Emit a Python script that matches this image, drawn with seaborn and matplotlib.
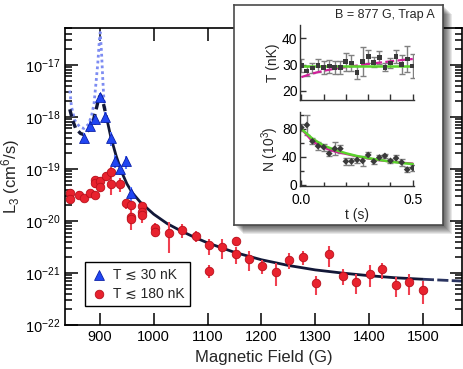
import numpy as np
import pandas as pd
import matplotlib
matplotlib.use("Agg")
import matplotlib.pyplot as plt
from matplotlib.patches import Rectangle
from matplotlib.ticker import (NullLocator, FixedLocator, NullFormatter, LogLocator,
                               LogFormatterSciNotation)
import seaborn as sns

# ── Style ───────────────────────────────────────────────────────────────────
sns.set_theme(style="ticks")
plt.rcParams["font.family"] = ["Liberation Sans", "DejaVu Sans"]
plt.rcParams["mathtext.fontset"] = "custom"
plt.rcParams["mathtext.rm"] = "Liberation Sans"
plt.rcParams["mathtext.it"] = "Liberation Sans:italic"

NAVY = "#121838"
BLUE = "#2146f2"
RED = "#e8222e"

# ── Main panel data ─────────────────────────────────────────────────────────
field_cold = [870, 881, 891, 901, 910, 920, 928, 938, 948, 958]
l3_cold = [4.0e-19, 6.8e-19, 9.0e-19, 2.4e-18, 1.0e-18, 4.0e-19, 1.45e-19, 1.0e-19, 1.4e-19, 3.4e-20]
err_cold = [1.0e-19, 1.5e-19, 2.0e-19, 5e-19, 2.5e-19, 1.2e-19, 4e-20, 2.5e-20, 4e-20, 1.2e-20]

field_warm = [844, 844, 861, 871, 881, 890, 890, 890, 900, 900, 911, 920, 920, 938,
              948, 958, 958, 958, 979, 979, 979, 1003, 1003, 1028, 1053, 1078, 1103,
              1103, 1127, 1152, 1152, 1177, 1202, 1227, 1252, 1277, 1301, 1326, 1351,
              1376, 1401, 1425, 1450, 1475, 1500]
l3_warm = [3.4e-20, 2.6e-20, 3.2e-20, 2.8e-20, 3.5e-20, 3.2e-20, 6.2e-20, 5.4e-20,
           5.9e-20, 4.6e-20, 7.4e-20, 8.9e-20, 5.1e-20, 5.1e-20, 2.2e-20, 2.0e-20,
           1.2e-20, 1.07e-20, 1.9e-20, 1.5e-20, 1.3e-20, 7.5e-21, 6.2e-21, 5.9e-21,
           6.7e-21, 5.2e-21, 3.4e-21, 1.1e-21, 3.2e-21, 4.1e-21, 2.3e-21, 1.9e-21,
           1.38e-21, 1.07e-21, 1.78e-21, 2.0e-21, 6.3e-22, 2.3e-21, 8.8e-22, 6.8e-22,
           9.8e-22, 1.18e-21, 6.0e-22, 6.8e-22, 4.7e-22]
err_warm = [0.6e-20, 0.5e-20, 0.5e-20, 0.4e-20, 0.5e-20, 0.6e-20, 1.0e-20, 1.0e-20,
            1.2e-20, 1.0e-20, 1.5e-20, 2.0e-20, 2.0e-20, 1.5e-20, 0.5e-20, 0.6e-20,
            0.3e-20, 0.4e-20, 0.4e-20, 0.4e-20, 0.4e-20, 1.5e-21, 1.2e-21, 3.5e-21,
            2.0e-21, 1.2e-21, 1.2e-21, 0.3e-21, 1.3e-21, 0.8e-21, 0.8e-21, 0.8e-21,
            0.4e-21, 0.5e-21, 0.6e-21, 0.6e-21, 2.5e-22, 1.0e-21, 3.0e-22, 2.8e-22,
            4.5e-22, 4.0e-22, 2.5e-22, 3.0e-22, 2.2e-22]

# theory curves
field_dash = [844, 849, 855, 864, 872, 881, 888, 894, 898, 901, 904, 907, 912]
l3_dash = [1.4e-18, 8.7e-19, 6.0e-19, 4.8e-19, 4.5e-19, 6.0e-19, 8.7e-19, 1.55e-18,
           2.3e-18, 2.6e-18, 2.2e-18, 1.7e-18, 1.0e-18]
field_solid = [912, 920, 930, 940, 950, 960, 975, 1000, 1025, 1050, 1075, 1100,
               1150, 1200, 1250, 1300, 1350, 1400, 1450, 1500]
l3_solid = [1.0e-18, 4.2e-19, 1.8e-19, 8.9e-20, 5.2e-20, 3.5e-20, 2.3e-20, 1.35e-20,
            8.9e-21, 6.5e-21, 4.9e-21, 3.8e-21, 2.5e-21, 1.8e-21, 1.4e-21, 1.15e-21,
            1.0e-21, 8.9e-22, 8.1e-22, 7.6e-22]
field_tail = [1500, 1573]
l3_tail = [7.6e-22, 7.0e-22]
field_dot = [844, 847, 853, 862, 870, 878, 884, 889, 892, 896, 899, 900.5, 903, 905,
             907, 910, 913]
l3_dot = [3.2e-18, 1.6e-18, 8.7e-19, 6.5e-19, 6.0e-19, 7.1e-19, 1.0e-18, 1.8e-18,
          3.8e-18, 1.07e-17, 3.0e-17, 4.2e-17, 1.7e-17, 6.0e-18, 2.5e-18, 1.2e-18, 8e-19]

y_decades = [1e-22, 1e-21, 1e-20, 1e-19, 1e-18, 1e-17]

# ── Inset data (B = 877 G) ──────────────────────────────────────────────────
t_s = [0.0, 0.025, 0.05, 0.075, 0.1, 0.125, 0.15, 0.175, 0.2, 0.225, 0.25, 0.275,
       0.3, 0.325, 0.35, 0.375, 0.4, 0.425, 0.45, 0.475, 0.5]
temp_nk = [29.6, 27.5, 28.7, 29.6, 29.0, 29.4, 29.0, 29.0, 31.0, 30.6, 26.9, 31.2,
           32.9, 30.9, 32.8, 29.0, 30.6, 32.9, 30.0, 32.1, 29.4]
temp_err = [2.5, 2.0, 2.0, 2.5, 2.5, 2.5, 2.5, 2.5, 3.5, 3.0, 2.5, 5.5, 2.5, 2.0,
            2.5, 1.5, 2.0, 2.5, 3.5, 5.0, 4.5]
atoms_k = [81.9, 85.6, 62.2, 55.2, 53.8, 44.5, 51.5, 51.5, 33.3, 33.3, 35.5, 34.1,
           42.5, 33.3, 38.8, 41.2, 34.1, 37.9, 31.9, 21.5, 23.9]
atoms_err = [5, 15, 4, 6, 5, 4, 9, 6, 5, 5, 5, 7, 5, 4, 4, 3, 3, 4, 5, 4, 4]

t_fit = [0.0, 0.05, 0.1, 0.15, 0.2, 0.25, 0.3, 0.35, 0.4, 0.45, 0.5]
temp_flat = [29.6] * 11
temp_rise = [25.2, 26.6, 27.6, 28.4, 29.0, 29.6, 30.2, 30.7, 31.2, 31.7, 32.1]
atoms_green = [80, 66, 56, 50, 45, 41, 38, 35.5, 33, 31, 29.5]
atoms_magenta = [80, 62, 53, 47.5, 44, 40.5, 37.5, 35, 33, 31.5, 30.2]

# ── Figure ──────────────────────────────────────────────────────────────────
fig = plt.figure(figsize=(4.64, 3.69), dpi=100)
ax = fig.add_axes([0.140, 0.119, 0.856, 0.805])

curves = [
    (field_dot, l3_dot, "#7d8cf2", (0, (1, 1.1)), 2.0),
    (field_dash, l3_dash, NAVY, (0, (2.2, 1.4)), 2.4),
    (field_solid, l3_solid, NAVY, "-", 2.0),
    (field_tail, l3_tail, "#2a3460", (0, (4, 1.2)), 2.0),
]
for xs, ys, col, ls, lw in curves:
    sns.lineplot(x=xs, y=ys, ax=ax, color=col, linestyle=ls, linewidth=lw,
                 estimator=None, sort=False, zorder=2)

ax.errorbar(field_warm, l3_warm, yerr=err_warm, fmt="none", ecolor="#f04050",
            elinewidth=1.5, capsize=0, zorder=3)
ax.errorbar(field_cold, l3_cold, yerr=err_cold, fmt="none", ecolor="#5a78ff",
            elinewidth=1.5, capsize=0, zorder=3)
sns.scatterplot(x=field_warm, y=l3_warm, ax=ax, marker="o", s=38, color=RED,
                edgecolor="#b8101c", linewidth=0.6, zorder=4, label="T \u2272 180 nK")
sns.scatterplot(x=field_cold, y=l3_cold, ax=ax, marker="^", s=50, color=BLUE,
                edgecolor="#0a1fa8", linewidth=0.6, zorder=5, label="T \u2272 30 nK")

ax.set_yscale("log")
ax.set_xlim(835, 1573)
ax.set_ylim(1e-22, 5.1e-17)
ax.set_xticks([900, 1000, 1100, 1200, 1300, 1400, 1500])
ax.xaxis.set_minor_locator(NullLocator())
ax.yaxis.set_major_locator(FixedLocator(y_decades))
ax.yaxis.set_major_formatter(LogFormatterSciNotation())
ax.yaxis.set_minor_locator(LogLocator(base=10, subs=np.arange(2, 10), numticks=20))
ax.yaxis.set_minor_formatter(NullFormatter())
ax.tick_params(which="both", direction="in", top=True, right=True, colors="black",
               labelsize=10.5, width=1.1)
ax.tick_params(which="major", length=9)
ax.tick_params(which="minor", length=5)
for sp in ax.spines.values():
    sp.set_color("black")
    sp.set_linewidth(1.2)
ax.set_xlabel("Magnetic Field (G)", fontsize=12)
ax.set_ylabel("L$_3$ (cm$^6$/s)", fontsize=12, labelpad=2)

h, l = ax.get_legend_handles_labels()
leg = ax.legend(h[::-1], l[::-1], loc="upper left", bbox_to_anchor=(0.05, 0.212),
                fancybox=False, edgecolor="black", framealpha=1, borderaxespad=0,
                fontsize=10, handletextpad=0.4, handlelength=1.2, borderpad=0.4,
                labelspacing=0.35)
leg.get_frame().set_linewidth(1.0)

# ── Inset box with drop shadow ──────────────────────────────────────────────
bx, by, bw, bh = 0.504, 0.390, 0.451, 0.596
px_w, px_h = 1 / 464, 1 / 369
for d in range(1, 10):
    fig.add_artist(Rectangle((bx + d * px_w, by - d * px_h), bw, bh,
                             transform=fig.transFigure, facecolor="black",
                             edgecolor="none", alpha=0.09, zorder=4))
box = fig.add_axes([bx, by, bw, bh], zorder=5)
box.set_facecolor("white")
box.set_xticks([])
box.set_yticks([])
for sp in box.spines.values():
    sp.set_color("#4a4a4a")
    sp.set_linewidth(1.2)
fig.text(0.937, 0.959, "B = 877 G, Trap A", ha="right", va="center", fontsize=9,
         zorder=7)

GRAY = "#333333"
ax_t = fig.add_axes([0.647, 0.729, 0.245, 0.203], zorder=6)
ax_n = fig.add_axes([0.647, 0.496, 0.245, 0.200], zorder=6)
for a in (ax_t, ax_n):
    a.set_facecolor("none")
    a.spines[["top", "right"]].set_visible(False)
    for sp in ("left", "bottom"):
        a.spines[sp].set_color(GRAY)
        a.spines[sp].set_linewidth(1.0)
    a.set_xlim(-0.005, 0.505)
    a.tick_params(which="both", direction="in", colors=GRAY, labelcolor="black",
                  labelsize=10, width=1.0, pad=2)
    a.tick_params(which="major", length=4)
    a.tick_params(which="minor", length=3)
ax_n.tick_params(axis="x", pad=5)

ax_t.errorbar(t_s, temp_nk, yerr=temp_err, fmt="none", ecolor="#808080",
              elinewidth=1.0, capsize=2, capthick=1.0, zorder=2)
sns.lineplot(x=t_fit, y=temp_rise, ax=ax_t, color="#d0209a", linestyle=(0, (4, 1.5)),
             linewidth=1.6, zorder=3)
sns.lineplot(x=t_fit, y=temp_flat, ax=ax_t, color="#5ad42c", linewidth=1.8, zorder=3)
sns.scatterplot(x=t_s, y=temp_nk, ax=ax_t, marker="s", s=12, color="#3a3a3a",
                edgecolor="none", zorder=4)
ax_t.set_ylim(16.5, 45)
ax_t.set_yticks([20, 30, 40])
ax_t.xaxis.set_major_locator(FixedLocator([0, 0.1, 0.2, 0.3, 0.4, 0.5]))
ax_t.xaxis.set_major_formatter(NullFormatter())
ax_t.set_ylabel("T (nK)", fontsize=10, labelpad=1)

ax_n.errorbar(t_s, atoms_k, yerr=atoms_err, fmt="none", ecolor="#808080",
              elinewidth=1.0, capsize=2, capthick=1.0, zorder=2)
sns.lineplot(x=t_fit, y=atoms_magenta, ax=ax_n, color="#d0209a", linewidth=1.6, zorder=3)
sns.lineplot(x=t_fit, y=atoms_green, ax=ax_n, color="#5ad42c", linewidth=1.8, zorder=3)
sns.scatterplot(x=t_s, y=atoms_k, ax=ax_n, marker="D", s=12, color="#3a3a3a",
                edgecolor="none", zorder=4)
ax_n.set_ylim(-2, 104)
ax_n.set_yticks([0, 40, 80])
ax_n.yaxis.set_minor_locator(FixedLocator([20, 60, 100]))
ax_n.set_xticks([0, 0.5])
ax_n.set_xticklabels(["0.0", "0.5"])
ax_n.xaxis.set_minor_locator(FixedLocator([0.1, 0.2, 0.3, 0.4]))
ax_n.set_ylabel("N (10$^3$)", fontsize=10, labelpad=1)
ax_n.set_xlabel("t (s)", fontsize=10, labelpad=1)

fig.savefig("out.png", dpi=100)
